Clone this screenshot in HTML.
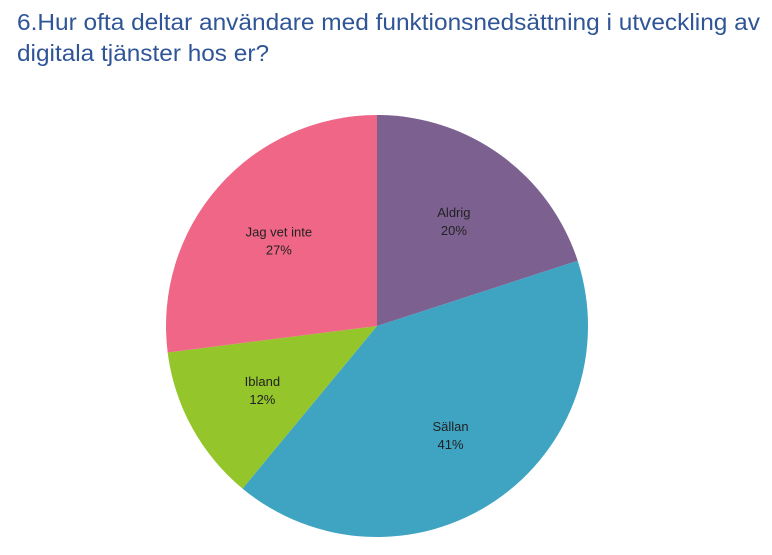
<!DOCTYPE html>
<html><head><meta charset="utf-8"><style>
body{margin:0;background:#fff;}
svg{display:block;font-family:"Liberation Sans",sans-serif;}
</style></head><body>
<svg width="772" height="555">
<text x="17" y="30" font-size="23" fill="#2F5597" textLength="743" lengthAdjust="spacingAndGlyphs">6.Hur ofta deltar användare med funktionsnedsättning i utveckling av</text>
<text x="17" y="61" font-size="23" fill="#2F5597" textLength="252" lengthAdjust="spacingAndGlyphs">digitala tjänster hos er?</text>
<g id="pie"></g>
</svg>
<script>
const categories=["Aldrig","Sällan","Ibland","Jag vet inte"];
const values=[20,41,12,27];
const colors=["#7B6090","#3FA3C2","#94C52A","#F06686"];
const labelPos=[[478,188],[476,474],[219,412],[240,231]];
const cx=377,cy=326,r=211;
const g=document.getElementById('pie');
const ns='http://www.w3.org/2000/svg';
const total=values.reduce((a,b)=>a+b,0);
let acc=0;
function pt(f,rr){const a=f*2*Math.PI;return [cx+rr*Math.sin(a),cy-rr*Math.cos(a)];}
values.forEach((v,i)=>{
  const f0=acc/total,f1=(acc+v)/total;acc+=v;
  const [x0,y0]=pt(f0,r),[x1,y1]=pt(f1,r);
  const p=document.createElementNS(ns,'path');
  p.setAttribute('d',`M${cx},${cy}L${x0},${y0}A${r},${r} 0 ${f1-f0>0.5?1:0} 1 ${x1},${y1}Z`);
  p.setAttribute('fill',colors[i]);
  
  
  g.appendChild(p);
  const fm=(f0+f1)/2;
  const [lx,ly]=pt(fm,r*0.62);
  const t=document.createElementNS(ns,'text');
  t.setAttribute('x',lx);t.setAttribute('y',ly-3);
  t.setAttribute('text-anchor','middle');t.setAttribute('font-size','13');t.setAttribute('fill','#222');
  
  
  const s1=document.createElementNS(ns,'tspan');s1.setAttribute('x',lx);s1.textContent=categories[i];
  const s2=document.createElementNS(ns,'tspan');s2.setAttribute('x',lx);s2.setAttribute('dy','18');s2.textContent=Math.round(v/total*100)+'%';
  t.appendChild(s1);t.appendChild(s2);g.appendChild(t);
});
</script>
</body></html>
